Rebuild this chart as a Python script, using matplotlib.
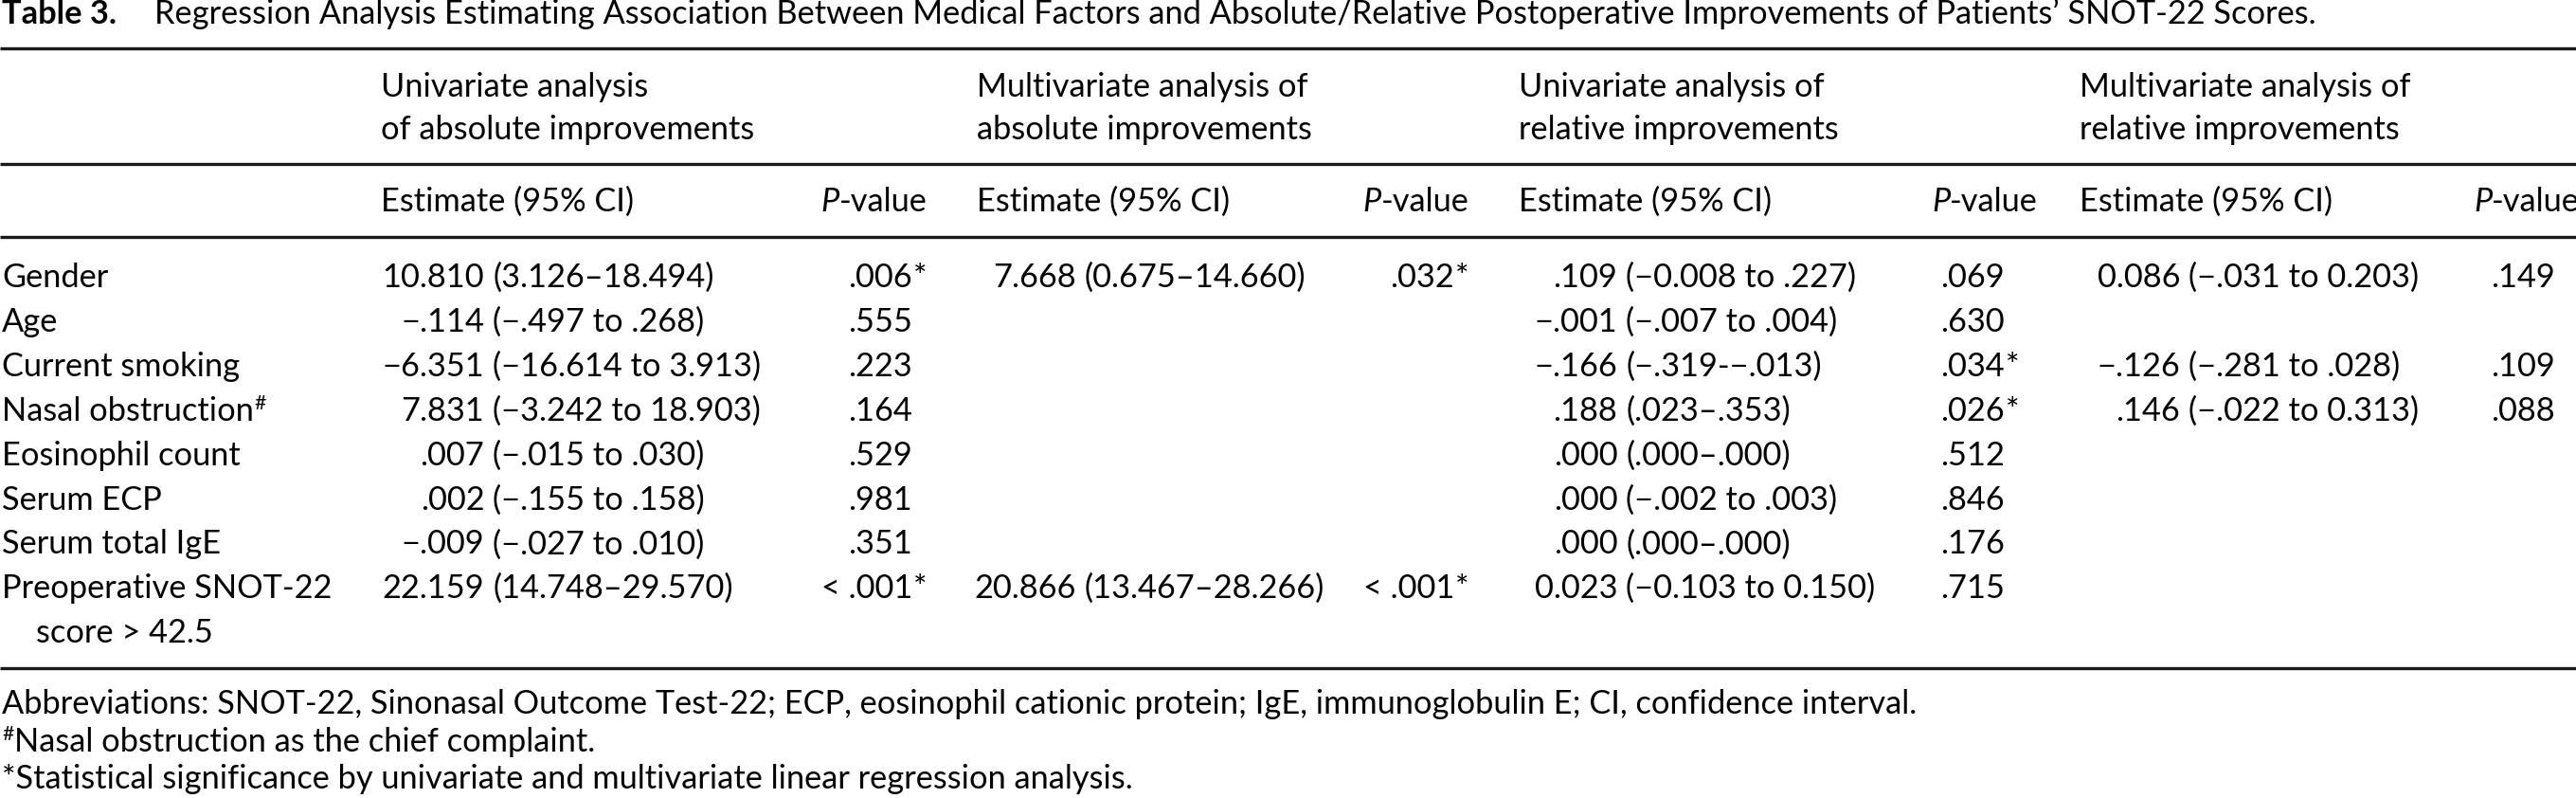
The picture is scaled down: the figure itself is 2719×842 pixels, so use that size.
import matplotlib
matplotlib.use("Agg")
import matplotlib.pyplot as plt

# ---------------- data ----------------
title_label = "Table 3."
title_text = ("Regression Analysis Estimating Association Between Medical Factors and "
              "Absolute/Relative Postoperative Improvements of Patients\u2019 SNOT-22 Scores.")

group_headers = [
    ["Univariate analysis", "of absolute improvements"],
    ["Multivariate analysis of", "absolute improvements"],
    ["Univariate analysis of", "relative improvements"],
    ["Multivariate analysis of", "relative improvements"],
]

row_labels = ["Gender", "Age", "Current smoking", "Nasal obstruction", "Eosinophil count",
              "Serum ECP", "Serum total IgE", "Preoperative SNOT-22"]
row_label_cont = {7: "score > 42.5"}
row_label_sup = {3: "#"}

M = "\u2212"
uni_abs_est = ["10.810", M + ".114", M + "6.351", "7.831", ".007", ".002", M + ".009", "22.159"]
uni_abs_ci = ["(3.126\u201318.494)", "(" + M + ".497 to .268)", "(" + M + "16.614 to 3.913)",
              "(" + M + "3.242 to 18.903)", "(" + M + ".015 to .030)", "(" + M + ".155 to .158)",
              "(" + M + ".027 to .010)", "(14.748\u201329.570)"]
uni_abs_p = [".006*", ".555", ".223", ".164", ".529", ".981", ".351", "< .001*"]

multi_abs_est = ["7.668", None, None, None, None, None, None, "20.866"]
multi_abs_ci = ["(0.675\u201314.660)", None, None, None, None, None, None, "(13.467\u201328.266)"]
multi_abs_p = [".032*", None, None, None, None, None, None, "< .001*"]

uni_rel_est = [".109", M + ".001", M + ".166", ".188", ".000", ".000", ".000", "0.023"]
uni_rel_ci = ["(" + M + "0.008 to .227)", "(" + M + ".007 to .004)", "(" + M + ".319-" + M + ".013)",
              "(.023\u2013.353)", "(.000\u2013.000)", "(" + M + ".002 to .003)", "(.000\u2013.000)",
              "(" + M + "0.103 to 0.150)"]
uni_rel_p = [".069", ".630", ".034*", ".026*", ".512", ".846", ".176", ".715"]

multi_rel_est = ["0.086", None, M + ".126", ".146", None, None, None, None]
multi_rel_ci = ["(" + M + ".031 to 0.203)", None, "(" + M + ".281 to .028)", "(" + M + ".022 to 0.313)",
                None, None, None, None]
multi_rel_p = [".149", None, ".109", ".088", None, None, None, None]

footnotes = [
    ("", "Abbreviations: SNOT-22, Sinonasal Outcome Test-22; ECP, eosinophil cationic protein; "
         "IgE, immunoglobulin E; CI, confidence interval."),
    ("#", "Nasal obstruction as the chief complaint."),
    ("", "*Statistical significance by univariate and multivariate linear regression analysis."),
]

# ---------------- layout ----------------
W, H = 2719, 842
FONT = "Lato"
fig = plt.figure(figsize=(W / 100, H / 100), dpi=100)
ax = fig.add_axes([0, 0, 1, 1])
ax.set_xlim(0, W)
ax.set_ylim(H, 0)
ax.axis("off")
renderer = fig.canvas.get_renderer()


def text_width(s, size, **kw):
    t = ax.text(0, 0, s, fontsize=size, family=FONT, **kw)
    w = t.get_window_extent(renderer).width
    t.remove()
    return w

# size chosen so the title spans the same width as in the reference
target_title_w = 2281
fs = 20.0
fs = fs * target_title_w / text_width(title_text, fs)


def T(x, y, s, ha="left", **kw):
    return ax.text(x, y, s, ha=ha, va="baseline", fontsize=kw.pop("size", fs),
                   family=FONT, color="black", **kw)

# title
T(2, 25, title_label, weight="bold")
T(163, 25, title_text)

# rules
for y in (51, 173, 250, 705):
    ax.plot([0, W], [y, y], color="#1a1a1a", lw=2.4, solid_capstyle="butt")

col_left = [402, 1031, 1603, 2195]
p_head_x = [866, 1438, 2039, 2611]
paren_x = [520, 1144, 1716, 2310]
p_right = [963, 1535, 2116, 2697]

for ci, lines in enumerate(group_headers):
    T(col_left[ci], 102, lines[0])
    T(col_left[ci], 147, lines[1])
    T(col_left[ci], 223, "Estimate (95% CI)")
    pw = text_width("P", fs, style="italic")
    T(p_head_x[ci], 223, "P", style="italic")
    T(p_head_x[ci] + pw, 223, "-value")

row_y0, row_step = 303, 46.9
space_w = text_width("0 0", fs) - text_width("00", fs)

cols = [(uni_abs_est, uni_abs_ci, uni_abs_p), (multi_abs_est, multi_abs_ci, multi_abs_p),
        (uni_rel_est, uni_rel_ci, uni_rel_p), (multi_rel_est, multi_rel_ci, multi_rel_p)]

for ri, lab in enumerate(row_labels):
    y = row_y0 + ri * row_step
    T(2, y, lab)
    if ri in row_label_sup:
        lw = text_width(lab, fs)
        T(2 + lw + 1, y - 12, row_label_sup[ri], size=fs * 0.62)
    if ri in row_label_cont:
        T(38, y + row_step, row_label_cont[ri])
    for ci, (est, cis, ps) in enumerate(cols):
        if est[ri] is not None:
            T(paren_x[ci] - space_w, y, est[ri], ha="right")
            T(paren_x[ci], y, cis[ri])
        if ps[ri] is not None:
            p = ps[ri]
            star = p.endswith("*")
            num = p.rstrip("*")
            T(p_right[ci], y, num, ha="right")
            if star:
                T(p_right[ci] + 1, y, "*")

foot_y = [753, 793, 832]
for (sup, s), y in zip(footnotes, foot_y):
    x = 2
    if sup:
        T(x, y - 12, sup, size=fs * 0.62)
        x += text_width(sup, fs * 0.62) + 1
    T(x, y, s)

fig.savefig("out.png", dpi=100)
